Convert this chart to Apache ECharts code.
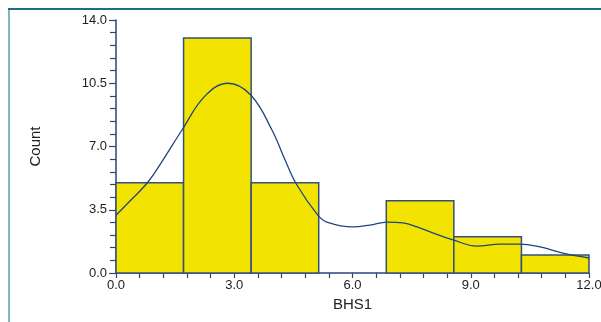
<!DOCTYPE html>
<html><head><meta charset="utf-8">
<script src="https://cdn.jsdelivr.net/npm/echarts@6/dist/echarts.min.js"></script>
<style>html,body{margin:0;padding:0;background:#fff}#c{width:601px;height:322px}</style>
</head><body><div id="c"></div>
<script>
var binEdges = [0, 1.714, 3.429, 5.143, 6.857, 8.571, 10.286, 12];
var counts = [5, 13, 5, 0, 4, 2, 1];
var curveX = [0, 0.36, 0.79, 1.19, 1.67, 2.26, 2.84, 3.42, 3.96, 4.29, 4.59, 5.12, 5.35, 6.01, 6.44, 6.87, 7.28, 7.64, 7.97, 8.55, 9.16, 9.74, 10.25, 10.76, 11.34, 12];
var curveY = [3.2, 4.0, 4.98, 6.25, 7.9, 9.8, 10.5, 9.85, 7.9, 6.25, 4.87, 3.2, 2.82, 2.55, 2.65, 2.82, 2.77, 2.55, 2.27, 1.83, 1.49, 1.6, 1.6, 1.44, 1.1, 0.83];
var xTicks = ['0.0', '3.0', '6.0', '9.0', '12.0'];
var yTicks = ['0.0', '3.5', '7.0', '10.5', '14.0'];

var barData = counts.map(function (c, i) { return [binEdges[i], binEdges[i + 1], c]; });
var curveData = curveX.map(function (x, i) { return [x, curveY[i]]; });
var font = '"Liberation Sans", Arial, Helvetica, sans-serif';
var axisColor = '#28467c';

var chart = echarts.init(document.getElementById('c'), null, {renderer: 'canvas'});
chart.setOption({
  animation: false,
  grid: {left: 116, right: 12, top: 20, bottom: 49, outerBoundsMode: 'none', containLabel: false},
  xAxis: {
    type: 'value', min: 0, max: 12, interval: 3,
    name: 'BHS1', nameLocation: 'middle', nameGap: 24,
    nameTextStyle: {fontFamily: font, fontSize: 15, color: '#222'},
    axisLine: {show: true, lineStyle: {color: axisColor, width: 1.5}},
    axisTick: {show: true, length: 5, lineStyle: {color: axisColor, width: 1.2}},
    minorTick: {show: true, splitNumber: 5, length: 5, lineStyle: {color: axisColor, width: 1.2}},
    splitLine: {show: false},
    axisLabel: {fontFamily: font, fontSize: 13, color: '#222', margin: 6,
      formatter: function (v) { return xTicks[Math.round(v / 3)]; }}
  },
  yAxis: {
    type: 'value', min: 0, max: 14, interval: 3.5,
    name: 'Count', nameLocation: 'middle', nameGap: 73, nameRotate: 90,
    nameTextStyle: {fontFamily: font, fontSize: 15, color: '#222'},
    axisLine: {show: true, lineStyle: {color: axisColor, width: 1.5}},
    axisTick: {show: true, length: 7, lineStyle: {color: axisColor, width: 1.2}},
    minorTick: {show: true, splitNumber: 5, length: 6, lineStyle: {color: axisColor, width: 1.2}},
    splitLine: {show: false},
    axisLabel: {fontFamily: font, fontSize: 13, color: '#222', margin: 9,
      formatter: function (v) { return yTicks[Math.round(v / 3.5)]; }}
  },
  graphic: [
    {type: 'line', shape: {x1: 9, y1: 9, x2: 9, y2: 322}, style: {stroke: '#82b5bc', lineWidth: 2}, z: 100},
    {type: 'line', shape: {x1: 8, y1: 9, x2: 601, y2: 9}, style: {stroke: '#1f6e80', lineWidth: 2}, z: 100}
  ],
  series: [
    {
      type: 'custom',
      data: barData,
      encode: {x: [0, 1], y: 2},
      renderItem: function (params, api) {
        var h = api.value(2);
        if (!h) return null;
        var p0 = api.coord([api.value(0), h]);
        var p1 = api.coord([api.value(1), 0]);
        return {
          type: 'rect',
          shape: {x: p0[0], y: p0[1], width: p1[0] - p0[0], height: p1[1] - p0[1]},
          style: {fill: '#f2e400', stroke: '#34507a', lineWidth: 1.5}
        };
      },
      z: 2
    },
    {
      type: 'line',
      data: curveData,
      smooth: 0.4,
      showSymbol: false,
      lineStyle: {color: '#1f4580', width: 1.3},
      z: 3
    }
  ]
});
</script></body></html>
